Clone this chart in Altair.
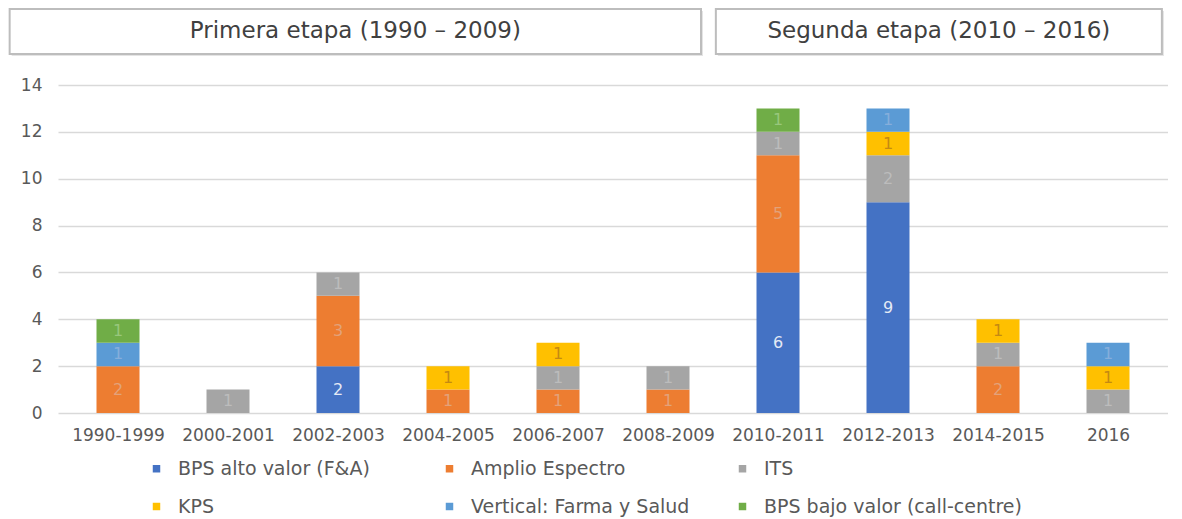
import altair as alt
import pandas as pd

# ---- data ----
periods = ["1990-1999", "2000-2001", "2002-2003", "2004-2005", "2006-2007",
           "2008-2009", "2010-2011", "2012-2013", "2014-2015", "2016"]
categories = ["BPS alto valor (F&A)", "Amplio Espectro", "ITS", "KPS",
              "Vertical: Farma y Salud", "BPS bajo valor (call-centre)"]
bps_alto = [0, 0, 2, 0, 0, 0, 6, 9, 0, 0]
amplio = [2, 0, 3, 1, 1, 1, 5, 0, 2, 0]
its = [0, 1, 1, 0, 1, 1, 1, 2, 1, 1]
kps = [0, 0, 0, 1, 1, 0, 0, 1, 1, 1]
vertical = [1, 0, 0, 0, 0, 0, 0, 1, 0, 1]
bps_bajo = [1, 0, 0, 0, 0, 0, 1, 0, 0, 0]
series = [bps_alto, amplio, its, kps, vertical, bps_bajo]

colors = ["#4472C4", "#ED7D31", "#A5A5A5", "#FFC000", "#5B9BD5", "#70AD47"]
label_colors = ["#e4eaf5", "#e3a27a", "#bcbcbc", "#c48a12", "#86aedb", "#98c77c"]

banner_labels = ["Primera etapa (1990 \u2013 2009)", "Segunda etapa (2010 \u2013 2016)"]
banner_start = [-0.985, 5.435]
banner_end = [5.30, 9.49]

y_ticks = [0, 2, 4, 6, 8, 10, 12, 14]

# ---- tables ----
rows = []
for ci, (cat, vals) in enumerate(zip(categories, series)):
    for pi, v in enumerate(vals):
        if v > 0:
            rows.append({"pi": pi, "period": periods[pi], "category": cat,
                         "ci": ci, "value": v, "lc": label_colors[ci]})
df = pd.DataFrame(rows)
bdf = pd.DataFrame({"label": banner_labels, "x0": banner_start, "x1": banner_end})

FONT = "DejaVu Sans"
TXT = "#595959"

label_expr = "[" + ",".join("'%s'" % p for p in periods) + "][datum.value]"
xscale = alt.Scale(domain=[-0.5, 9.5], nice=False, zero=False)
xaxis = alt.Axis(values=list(range(len(periods))), labelExpr=label_expr, title=None,
                 ticks=False, domain=False, grid=False, labelFont=FONT,
                 labelFontSize=17, labelColor=TXT, labelPadding=14)
yscale = alt.Scale(domain=[0, 14], nice=False)
yaxis = alt.Axis(values=y_ticks, title=None, ticks=False, domain=False,
                 grid=True, gridColor="#d9d9d9", gridWidth=1.3,
                 labelFont=FONT, labelFontSize=17, labelColor=TXT, labelPadding=16)

base = alt.Chart(df).transform_stack(
    stack="value", groupby=["pi"],
    sort=[alt.SortField("ci", order="ascending")], as_=["y0", "y1"]
).transform_calculate(mid="(datum.y0 + datum.y1) / 2")

bars = base.mark_bar(size=43).encode(
    x=alt.X("pi:Q", scale=xscale, axis=xaxis),
    y=alt.Y("y0:Q", scale=yscale, axis=yaxis),
    y2="y1:Q",
    color=alt.Color("category:N", scale=alt.Scale(domain=categories, range=colors),
                    legend=alt.Legend(orient="none", legendX=89, legendY=374,
                                      direction="horizontal",
                                      columns=3, title=None, symbolType="square",
                                      symbolSize=56, symbolStrokeWidth=0,
                                      labelFont=FONT, labelFontSize=19,
                                      labelColor=TXT, labelLimit=500,
                                      labelOffset=12, gridAlign="all",
                                      columnPadding=4, rowPadding=18,
                                      padding=0)),
)

labels = base.mark_text(font=FONT, fontSize=16, baseline="middle").encode(
    x=alt.X("pi:Q", scale=xscale, axis=xaxis),
    y=alt.Y("mid:Q", scale=yscale, axis=yaxis),
    text="value:Q",
    color=alt.Color("lc:N", scale=None),
)

shadow = alt.Chart(bdf).mark_rect(fill="#e4e4e4", xOffset=2, x2Offset=2,
                                  yOffset=2, y2Offset=2).encode(
    x=alt.X("x0:Q", scale=xscale, axis=xaxis), x2="x1:Q",
    y=alt.value(-76), y2=alt.value(-31),
)
boxes = alt.Chart(bdf).mark_rect(fill="white", stroke="#bdbdbd", strokeWidth=2).encode(
    x=alt.X("x0:Q", scale=xscale, axis=xaxis), x2="x1:Q",
    y=alt.value(-76), y2=alt.value(-31),
)
btext = alt.Chart(bdf).transform_calculate(xm="(datum.x0 + datum.x1) / 2").mark_text(
    font=FONT, fontSize=23, color="#404040", baseline="middle"
).encode(
    x=alt.X("xm:Q", scale=xscale, axis=xaxis),
    y=alt.value(-54),
    text="label:N",
)

chart = alt.layer(bars, labels, shadow, boxes, btext).properties(
    width=1110, height=328, padding=0
).configure_view(stroke=None)

chart.save("out.html", embed_options={"renderer": "svg", "actions": False})
